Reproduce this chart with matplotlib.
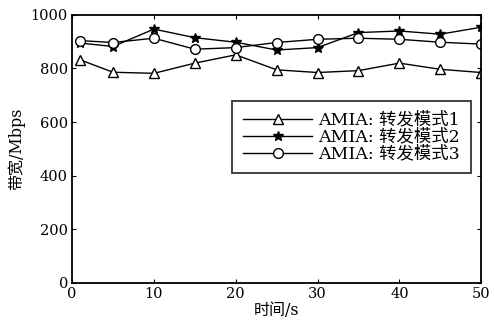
import matplotlib.pyplot as plt

plt.rcParams['font.family'] = ['DejaVu Serif', 'Noto Sans CJK SC']

# time (s)
t = [1, 5, 10, 15, 20, 25, 30, 35, 40, 45, 50]
# bandwidth (Mbps) per forwarding mode
mode1 = [832, 786, 782, 820, 851, 795, 785, 792, 820, 797, 785]
mode2 = [895, 882, 947, 915, 898, 869, 878, 934, 940, 928, 954]
mode3 = [904, 897, 913, 872, 878, 897, 909, 913, 909, 898, 891]
labels = ['AMIA: 转发模式1', 'AMIA: 转发模式2', 'AMIA: 转发模式3']

fig = plt.figure(figsize=(4.94, 3.24), dpi=100)
ax = fig.add_axes([0.146, 0.127, 0.828, 0.827])

ax.plot(t, mode1, color='black', lw=1, marker='^', ms=7.5, mfc='white', mec='black', label=labels[0])
ax.plot(t, mode2, color='black', lw=1, marker='*', ms=7, mfc='black', mec='black', label=labels[1])
ax.plot(t, mode3, color='black', lw=1, marker='o', ms=7, mfc='white', mec='black', label=labels[2])

ax.set_xlim(0, 50)
ax.set_ylim(0, 1000)
ax.set_xticks([0, 10, 20, 30, 40, 50])
ax.set_yticks([0, 200, 400, 600, 800, 1000])
ax.tick_params(direction='in', top=True, right=True, labelsize=10.5, length=3, pad=3)
for s in ax.spines.values():
    s.set_linewidth(1.3)

ax.set_xlabel('时间/s', fontsize=11.5, labelpad=1)
ax.set_ylabel('带宽/Mbps', fontsize=11.5, labelpad=4)

leg = ax.legend(loc='upper right', bbox_to_anchor=(0.974, 0.678), fontsize=12.5,
                frameon=True, fancybox=False, edgecolor='black', borderpad=0.6,
                labelspacing=0.0, handlelength=4.0, handletextpad=0.35, borderaxespad=0)
leg.get_frame().set_linewidth(1.3)

fig.savefig('out.png', dpi=100)
